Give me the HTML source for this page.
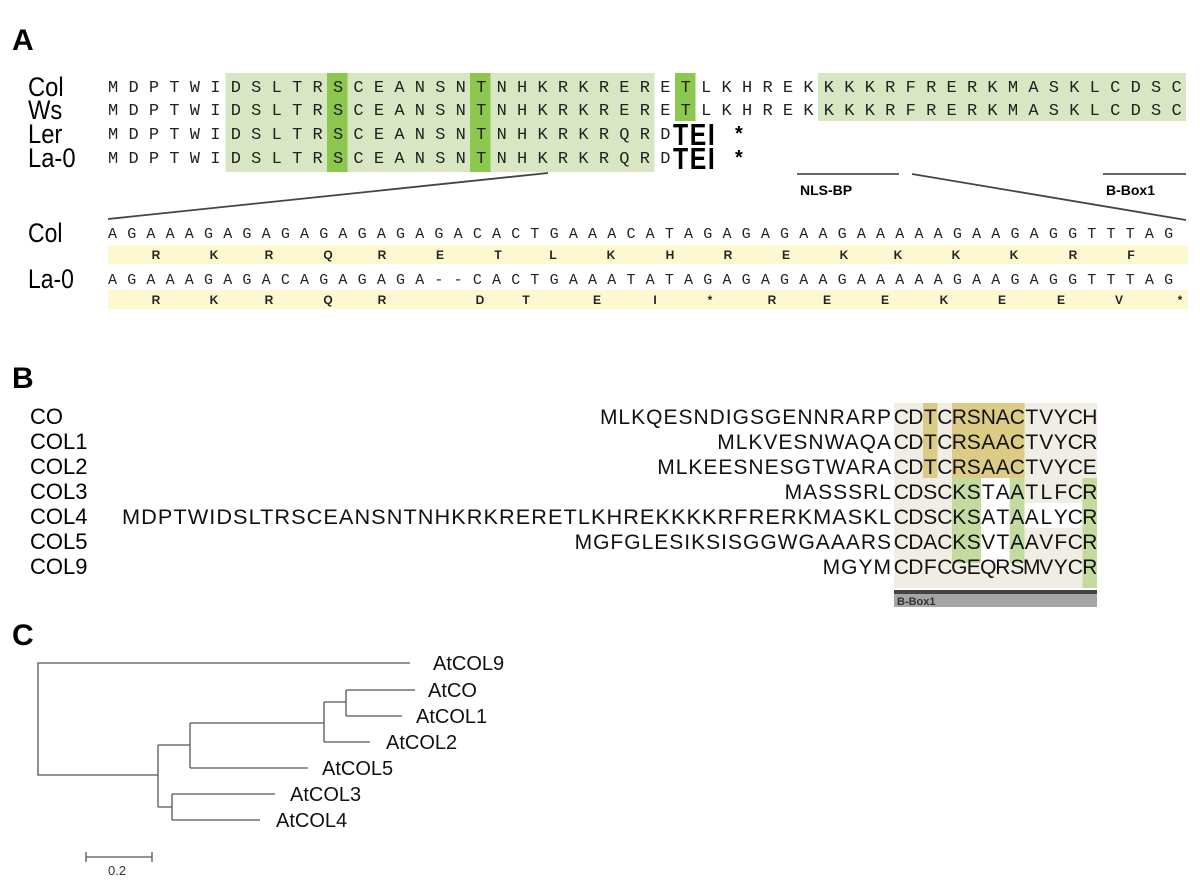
<!DOCTYPE html>
<html><head><meta charset="utf-8"><style>
html,body{margin:0;padding:0;background:#fff}
svg{display:block}
.lab{font-family:"Liberation Sans",Arial,sans-serif}
.mono{font-family:"Liberation Mono",monospace}
</style></head><body>
<svg width="1200" height="887" viewBox="0 0 1200 887" xmlns="http://www.w3.org/2000/svg">
<rect width="1200" height="887" fill="#fff"/>
<g class="lab" font-weight="bold" font-size="30" fill="#000">
<text x="12" y="50">A</text><text x="12" y="388">B</text><text x="12" y="645">C</text>
</g>

<rect x="225.5" y="73" width="429" height="99" fill="#d9e6c3"/>
<rect x="818" y="73" width="368" height="48" fill="#d9e6c3"/>
<rect x="327" y="73" width="20.5" height="99" fill="#8cc84e"/>
<rect x="470" y="73" width="20.5" height="99" fill="#8cc84e"/>
<rect x="675" y="73" width="20.5" height="48" fill="#8cc84e"/>

<g class="lab" font-size="27" fill="#000">
<text transform="translate(28,96) scale(0.88,1)">Col</text>
<text transform="translate(28,119) scale(0.88,1)">Ws</text>
<text transform="translate(28,143) scale(0.88,1)">Ler</text>
<text transform="translate(28,167) scale(0.88,1)">La-0</text>
</g>
<g class="mono" font-size="17" fill="#222" letter-spacing="10.25">
<text x="108" y="92">MDPTWIDSLTRSCEANSNTNHKRKRERETLKHREKKKKRFRERKMASKLCDSC</text>
<text x="108" y="115">MDPTWIDSLTRSCEANSNTNHKRKRERETLKHREKKKKRFRERKMASKLCDSC</text>
<text x="108" y="139">MDPTWIDSLTRSCEANSNTNHKRKRQRD</text>
<text x="108" y="163">MDPTWIDSLTRSCEANSNTNHKRKRQRD</text>
</g>
<g class="lab" font-weight="bold" font-size="31" fill="#000">
<text transform="translate(673,145) scale(0.8,1)" letter-spacing="2">TEI</text>
<text transform="translate(673,169) scale(0.8,1)" letter-spacing="2">TEI</text>
<text x="735" y="140" font-size="20">*</text><text x="735" y="164" font-size="20">*</text>
</g>
<line x1="797" y1="174" x2="899" y2="174" stroke="#333" stroke-width="1.5"/>
<line x1="1103" y1="174" x2="1186" y2="174" stroke="#333" stroke-width="1.5"/>
<g class="lab" font-weight="bold" font-size="14" fill="#000">
<text x="800" y="195">NLS-BP</text><text x="1106" y="195">B-Box1</text>
</g>
<line x1="548" y1="173" x2="108" y2="219" stroke="#444" stroke-width="1.8"/>
<line x1="912" y1="174" x2="1186" y2="220" stroke="#444" stroke-width="1.8"/>

<rect x="108" y="245" width="1080" height="19" fill="#fdf8cf"/>
<rect x="108" y="290" width="1080" height="19" fill="#fdf8cf"/>
<g class="lab" font-size="27" fill="#000">
<text transform="translate(28,242) scale(0.85,1)">Col</text><text transform="translate(28,288) scale(0.85,1)">La-0</text>
</g>
<g class="mono" font-size="15" fill="#222" letter-spacing="10.2">
<text x="108" y="238">AGAAAGAGAGAGAGAGAGACACTGAAACATAGAGAGAAGAAAAAGAAGAGGTTTAG</text>
<text x="108" y="284">AGAAAGAGACAGAGAGA--CACTGAAATATAGAGAGAAGAAAAAGAAGAGGTTTAG</text>
</g>
<g class="lab" font-weight="bold" font-size="12" fill="#222" text-anchor="middle">
<text x="156 214 269 328 382 440 498 553 611 670 728 786 844 898 956 1014 1073 1131" y="259">RKRQRETLKHREKKKKRF</text>
<text x="156 214 269 328 382 480 526 597 655 710 772 827 885 944 1002 1061 1119 1180" y="304">RKRQRDTEI*REEKEEV*</text>
</g>

<rect x="894" y="403" width="203" height="185" fill="#efede4"/>
<rect x="981" y="478" width="28" height="85" fill="#fff"/>
<rect x="1024" y="503" width="58" height="25" fill="#fff"/>
<rect x="923" y="403" width="14.5" height="75" fill="#dccb85"/>
<rect x="952" y="403" width="72.5" height="75" fill="#dccb85"/>
<rect x="952" y="478" width="29" height="85" fill="#c4dba0"/>
<rect x="1010" y="478" width="14.5" height="85" fill="#c4dba0"/>
<rect x="1082.5" y="478" width="14.5" height="110" fill="#c4dba0"/>
<rect x="894" y="590" width="203" height="4" fill="#444"/>
<rect x="894" y="594" width="203" height="13" fill="#a5a5a5"/>
<text class="lab" x="897" y="605" font-size="11" font-weight="bold" fill="#333">B-Box1</text>

<g class="lab" font-size="22" fill="#000">
<text x="30" y="424">CO</text><text x="30" y="449">COL1</text><text x="30" y="474">COL2</text>
<text x="30" y="499">COL3</text><text x="30" y="524">COL4</text><text x="30" y="549">COL5</text><text x="30" y="574">COL9</text>
</g>
<g class="lab" font-size="21" fill="#111" text-anchor="end" letter-spacing="1">
<text x="892" y="424">MLKQESNDIGSGENNRARP</text>
<text x="892" y="449">MLKVESNWAQA</text>
<text x="892" y="474">MLKEESNESGTWARA</text>
<text x="892" y="499">MASSSRL</text>
<text x="892" y="524" textLength="770" lengthAdjust="spacingAndGlyphs">MDPTWIDSLTRSCEANSNTNHKRKRERETLKHREKKKKRFRERKMASKL</text>
<text x="892" y="549">MGFGLESIKSISGGWGAAARS</text>
<text x="892" y="574">MGYM</text>
</g>
<g class="lab" font-size="21" fill="#111" text-anchor="middle">
<text x="901.3 915.8 930.3 944.8 959.3 973.8 988.3 1002.8 1017.3 1031.8 1046.3 1060.8 1075.3 1089.8" y="424">CDTCRSNACTVYCH</text>
<text x="901.3 915.8 930.3 944.8 959.3 973.8 988.3 1002.8 1017.3 1031.8 1046.3 1060.8 1075.3 1089.8" y="449">CDTCRSAACTVYCR</text>
<text x="901.3 915.8 930.3 944.8 959.3 973.8 988.3 1002.8 1017.3 1031.8 1046.3 1060.8 1075.3 1089.8" y="474">CDTCRSAACTVYCE</text>
<text x="901.3 915.8 930.3 944.8 959.3 973.8 988.3 1002.8 1017.3 1031.8 1046.3 1060.8 1075.3 1089.8" y="499">CDSCKSTAATLFCR</text>
<text x="901.3 915.8 930.3 944.8 959.3 973.8 988.3 1002.8 1017.3 1031.8 1046.3 1060.8 1075.3 1089.8" y="524">CDSCKSATAALYCR</text>
<text x="901.3 915.8 930.3 944.8 959.3 973.8 988.3 1002.8 1017.3 1031.8 1046.3 1060.8 1075.3 1089.8" y="549">CDACKSVTAAVFCR</text>
<text x="901.3 915.8 930.3 944.8 959.3 973.8 988.3 1002.8 1017.3 1031.8 1046.3 1060.8 1075.3 1089.8" y="574">CDFCGEQRSMVYCR</text>
</g>

<g stroke="#555" stroke-width="1.3" fill="none">
<path d="M410 663 H38 V775 H158"/>
<path d="M158 745 V807"/>
<path d="M158 745 H190 M190 723 V768 M190 723 H324 M190 768 H308"/>
<path d="M324 702 V742 M324 702 H346 M324 742 H370"/>
<path d="M346 690 V716 M346 690 H415 M346 716 H402"/>
<path d="M158 807 H172 M172 794 V820 M172 794 H275 M172 820 H260"/>
<path d="M86 857 H152 M86 852 V862 M152 852 V862"/>
</g>
<g class="lab" font-size="20" fill="#111">
<text x="433" y="670">AtCOL9</text>
<text x="428" y="697">AtCO</text>
<text x="416" y="723">AtCOL1</text>
<text x="386" y="749">AtCOL2</text>
<text x="322" y="775">AtCOL5</text>
<text x="290" y="801">AtCOL3</text>
<text x="276" y="827">AtCOL4</text>
</g>
<text class="lab" x="108" y="875" font-size="13" fill="#333">0.2</text>
</svg>
</body></html>
